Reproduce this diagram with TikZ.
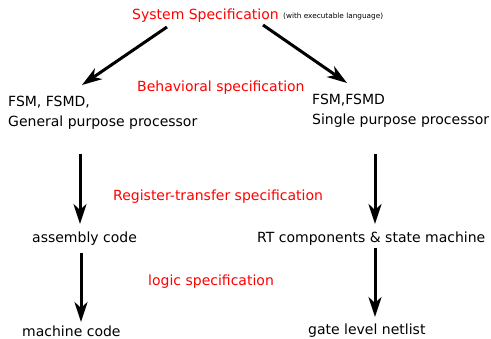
\documentclass[tikz,border=0pt]{standalone}
\usepackage{fontspec}
\setmainfont{DejaVu Sans}
\usetikzlibrary{arrows.meta}
\begin{document}
\begin{tikzpicture}[x=1pt,y=1pt,
  lbl/.style={anchor=base west,inner sep=0pt,font=\fontsize{14}{20}\selectfont,align=left},
  spec/.style={lbl,text=red},
  arr/.style={line width=3pt,-{Stealth[length=20pt,width=13pt,inset=6pt]}}]
\useasboundingbox[fill=white] (0,0) rectangle (491,-339);
\node[spec] (sys) at (132,-20) {System Specification};
\node[anchor=base west,inner sep=0pt,font=\fontsize{7.3}{9}\selectfont] (note) at (283,-19) {(with executable language)};
\node[spec] (beh) at (137,-92) {Behavioral specification};
\node[lbl] (gpp) at (8,-127) {FSM, FSMD,\\General purpose processor};
\node[lbl] (spp) at (312,-125) {FSM,FSMD\\Single purpose processor};
\node[spec] (rtl) at (113,-201) {Register-transfer specification};
\node[lbl] (asm) at (32,-243) {assembly code};
\node[lbl] (rtc) at (257,-243) {RT components \& state machine};
\node[spec] (logic) at (148,-286) {logic specification};
\node[lbl] (mc) at (22,-337) {machine code};
\node[lbl] (gate) at (308,-335) {gate level netlist};
\draw[arr] ([shift={(35,-7)}]sys.base west) -- ([shift={(74,42)}]gpp.base west);
\draw[arr] ([shift={(131,-5)}]sys.base west) -- ([shift={(35,42)}]spp.base west);
\draw[arr] ([shift={(72,-27)}]gpp.base west) -- ([shift={(48,19)}]asm.base west);
\draw[arr] ([shift={(63,-29)}]spp.base west) -- ([shift={(118,19)}]rtc.base west);
\draw[arr] ([shift={(49,-10)}]asm.base west) -- ([shift={(59,15)}]mc.base west);
\draw[arr] ([shift={(118,-5)}]rtc.base west) -- ([shift={(67,18)}]gate.base west);
\end{tikzpicture}
\end{document}
